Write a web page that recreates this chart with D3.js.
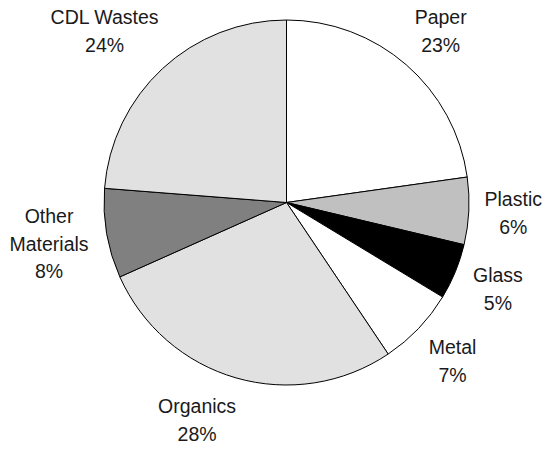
<!DOCTYPE html>
<html>
<head>
<meta charset="utf-8">
<script src="https://cdn.jsdelivr.net/npm/d3@7/dist/d3.min.js"></script>
<style>
  html, body { margin: 0; padding: 0; background: #fff; }
  svg { display: block; }
  text { font-family: "Liberation Sans", Arial, sans-serif; fill: #1a1a1a; }
</style>
</head>
<body>
<div id="chart"></div>
<script>
// Municipal waste composition, share of total by material (%)
const categories = ["Paper", "Plastic", "Glass", "Metal", "Organics", "Other Materials", "CDL Wastes"];
const shares = [23, 6, 5, 7, 28, 8, 24];

// Slice fills, in category order
const fills = ["#ffffff", "#c0c0c0", "#000000", "#ffffff", "#e1e1e1", "#808080", "#e1e1e1"];

const width = 544, height = 450;
const cx = 286.5, cy = 202.5, radius = 182.5;
const fontSize = 19.5, lineH = 27.5, capH = 14.2;
const gap = 15, topMin = 10;
// hand adjustment for the bottom label, which sits left of its slice's mid-angle
const labelShift = { "Organics": -27 };

const data = categories.map((name, i) => ({ name, value: shares[i], fill: fills[i] }));

const svg = d3.select("#chart").append("svg")
  .attr("width", width).attr("height", height);

const g = svg.append("g").attr("transform", `translate(${cx},${cy})`);

const pie = d3.pie().sort(null).value(d => d.value);
const arc = d3.arc().innerRadius(0).outerRadius(radius);
const arcs = pie(data);

g.selectAll("path.slice")
  .data(arcs)
  .join("path")
  .attr("class", "slice")
  .attr("d", arc)
  .attr("fill", d => d.data.fill)
  .attr("stroke", "#000")
  .attr("stroke-width", 1)
  .attr("stroke-linejoin", "round");

// Label lines: long names wrap onto two lines
const linesFor = d => {
  const name = d.data.name;
  const parts = name === "Other Materials" ? name.split(" ") : [name];
  return parts.concat([Math.round(d.value) + "%"]);
};

// Distance from the pie centre to the nearest point of a box centred at (x, y)
const boxDist = (x, y, w, h) => {
  const dx = Math.max(0, Math.abs(x) - w / 2);
  const dy = Math.max(0, Math.abs(y) - h / 2);
  return Math.hypot(dx, dy);
};

const labels = g.selectAll("text.label")
  .data(arcs)
  .join("text")
  .attr("class", "label")
  .attr("text-anchor", "middle")
  .style("font-size", fontSize + "px");

labels.each(function(d) {
  const lines = linesFor(d);
  const t = d3.select(this);
  lines.forEach((s, i) => {
    t.append("tspan").attr("x", 0).attr("dy", i === 0 ? 0 : lineH).text(s);
  });
  const w = this.getBBox().width;
  const h = capH + (lines.length - 1) * lineH;
  const mid = (d.startAngle + d.endAngle) / 2;
  const ux = Math.sin(mid), uy = -Math.cos(mid);
  // push the label block out along the slice's mid-angle until it clears the pie
  let r = radius;
  while (boxDist(r * ux, r * uy, w, h) < radius + gap) r += 0.5;
  let x = r * ux, y = r * uy;
  // keep the block inside the top of the frame, sliding it outward instead
  if (cy + y - h / 2 < topMin) {
    y = topMin - cy + h / 2;
    while (boxDist(x, y, w, h) < radius + gap) x += Math.sign(ux) * 0.5;
  }
  x += labelShift[d.data.name] || 0;
  const base = y - h / 2 + capH;
  t.attr("transform", `translate(${x},${base})`);
});
</script>
</body>
</html>
